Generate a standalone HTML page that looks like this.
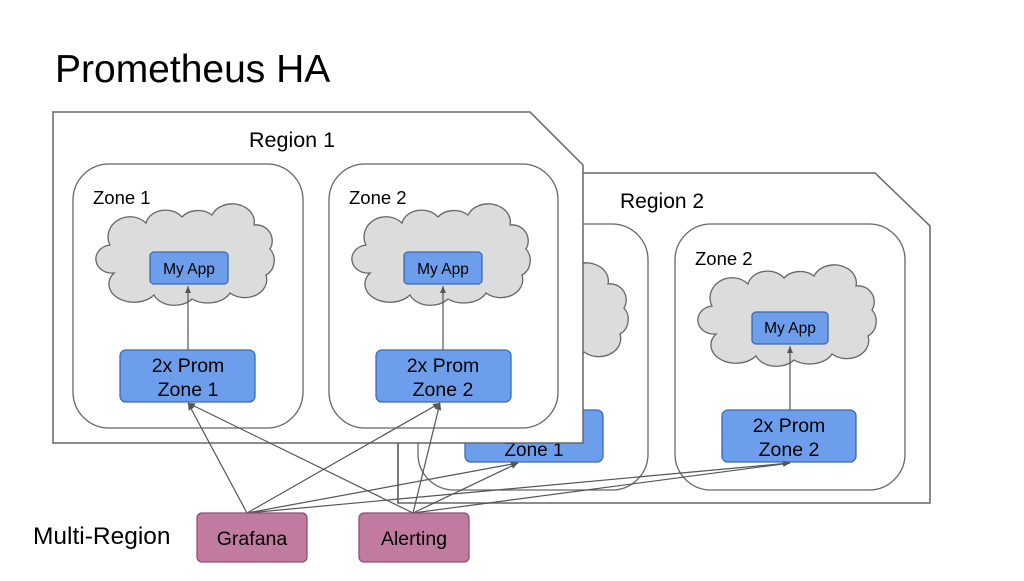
<!DOCTYPE html>
<html><head><style>
body{margin:0;width:1024px;height:576px;background:#fff;overflow:hidden;font-family:"Liberation Sans",sans-serif;}
</style></head><body>
<svg width="1024" height="576" viewBox="0 0 1024 576" xmlns="http://www.w3.org/2000/svg" font-family="Liberation Sans, sans-serif">
<defs>
<path id="cloud" d="M 18,64 A 16,14 0 0 1 14,36 A 22,20 0 0 1 50,14 A 20,16 0 0 1 86,8 A 20,16 0 0 1 116,6 A 22,18 0 0 1 158,16 A 16,16 0 0 1 174,40 A 14,16 0 0 1 170,66 A 22,18 0 0 1 134,84 A 24,16 0 0 1 96,90 A 22,16 0 0 1 58,86 A 22,16 0 0 1 18,64 Z" fill="#dcdcdc" stroke="#666" stroke-width="1.3"/>
<marker id="ar" markerWidth="8" markerHeight="8" refX="7" refY="4" orient="auto" markerUnits="userSpaceOnUse"><path d="M0,1 L7,4 L0,7 Z" fill="#555"/></marker>
</defs>
<text x="55" y="82" font-size="39" fill="#000">Prometheus HA</text>

<!-- Region 2 -->
<path d="M398,173 L875,173 L930,226 L930,503 L398,503 Z" fill="#fff" stroke="#666" stroke-width="1.5"/>
<text x="620" y="208" font-size="21">Region 2</text>
<rect x="418" y="224" width="230" height="266" rx="36" fill="#fff" stroke="#666" stroke-width="1.3"/>
<use href="#cloud" transform="translate(450,268)"/>
<rect x="465" y="410" width="138" height="52" rx="6" fill="#6d9eeb" stroke="#3c6ab0" stroke-width="1.3"/>
<text x="534" y="456" font-size="19" text-anchor="middle">Zone 1</text>
<rect x="675" y="224" width="230" height="266" rx="36" fill="#fff" stroke="#666" stroke-width="1.3"/>
<text x="695" y="265" font-size="18.5">Zone 2</text>
<use href="#cloud" transform="translate(698,270)"/>
<line x1="790" y1="410" x2="790" y2="346" stroke="#555" stroke-width="1.2" marker-end="url(#ar)"/>
<rect x="752" y="312" width="76" height="32" rx="4" fill="#6d9eeb" stroke="#3c6ab0" stroke-width="1.3"/>
<text x="790" y="333" font-size="15.5" text-anchor="middle">My App</text>
<rect x="722" y="410" width="134" height="52" rx="6" fill="#6d9eeb" stroke="#3c6ab0" stroke-width="1.3"/>
<text x="789" y="432" font-size="19.5" text-anchor="middle">2x Prom</text>
<text x="789" y="456" font-size="19.5" text-anchor="middle">Zone 2</text>

<!-- Region 1 -->
<path d="M53,112 L530,112 L583,165 L583,443 L53,443 Z" fill="#fff" stroke="#666" stroke-width="1.5"/>
<text x="249" y="147" font-size="21.5">Region 1</text>

<rect x="73" y="164" width="230" height="264" rx="36" fill="#fff" stroke="#666" stroke-width="1.3"/>
<text x="93" y="204" font-size="18.5">Zone 1</text>
<use href="#cloud" transform="translate(96,209)"/>
<line x1="188" y1="350" x2="188" y2="286" stroke="#555" stroke-width="1.2" marker-end="url(#ar)"/>
<rect x="150" y="252" width="78" height="32" rx="4" fill="#6d9eeb" stroke="#3c6ab0" stroke-width="1.3"/>
<text x="189" y="274" font-size="15.5" text-anchor="middle">My App</text>
<rect x="120" y="350" width="135" height="52" rx="6" fill="#6d9eeb" stroke="#3c6ab0" stroke-width="1.3"/>
<text x="188" y="372" font-size="19.5" text-anchor="middle">2x Prom</text>
<text x="188" y="396" font-size="19.5" text-anchor="middle">Zone 1</text>

<rect x="329" y="164" width="229" height="264" rx="36" fill="#fff" stroke="#666" stroke-width="1.3"/>
<text x="349" y="204" font-size="18.5">Zone 2</text>
<use href="#cloud" transform="translate(352,209)"/>
<line x1="443" y1="350" x2="443" y2="286" stroke="#555" stroke-width="1.2" marker-end="url(#ar)"/>
<rect x="404" y="252" width="78" height="32" rx="4" fill="#6d9eeb" stroke="#3c6ab0" stroke-width="1.3"/>
<text x="443" y="274" font-size="15.5" text-anchor="middle">My App</text>
<rect x="376" y="350" width="135" height="52" rx="6" fill="#6d9eeb" stroke="#3c6ab0" stroke-width="1.3"/>
<text x="443" y="372" font-size="19.5" text-anchor="middle">2x Prom</text>
<text x="443" y="396" font-size="19.5" text-anchor="middle">Zone 2</text>

<!-- connectors -->
<g stroke="#555" stroke-width="1.2" fill="none">
<line x1="398" y1="443" x2="398" y2="503"/>
<line x1="247" y1="513" x2="188" y2="403" marker-end="url(#ar)"/>
<line x1="247" y1="513" x2="440" y2="403" marker-end="url(#ar)"/>
<line x1="247" y1="513" x2="518" y2="463" marker-end="url(#ar)"/>
<line x1="247" y1="513" x2="790" y2="463" marker-end="url(#ar)"/>
<line x1="413" y1="513" x2="188" y2="403" marker-end="url(#ar)"/>
<line x1="413" y1="513" x2="440" y2="403" marker-end="url(#ar)"/>
<line x1="413" y1="513" x2="518" y2="463" marker-end="url(#ar)"/>
<line x1="413" y1="513" x2="790" y2="463" marker-end="url(#ar)"/>
</g>

<text x="33" y="544" font-size="24.5">Multi-Region</text>
<rect x="197" y="513" width="110" height="49" rx="5" fill="#c27ba0" stroke="#8e4f70" stroke-width="1.3"/>
<text x="252" y="545" font-size="19.5" text-anchor="middle">Grafana</text>
<rect x="359" y="513" width="110" height="49" rx="5" fill="#c27ba0" stroke="#8e4f70" stroke-width="1.3"/>
<text x="414" y="545" font-size="19.5" text-anchor="middle">Alerting</text>
</svg>
</body></html>
